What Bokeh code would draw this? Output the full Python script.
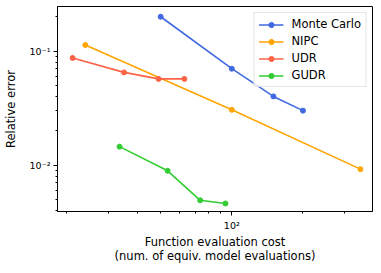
from bokeh.plotting import figure
from bokeh.models import Range1d, FixedTicker, CustomJSTickFormatter, Legend, LegendItem
from bokeh.embed import file_html
from bokeh.resources import INLINE

# Data
mc_x = [50, 100, 150, 200]
mc_y = [0.2, 0.07, 0.04, 0.03]
nipc_x = [24, 100, 350]
nipc_y = [0.113, 0.0305, 0.0092]
udr_x = [21.2, 35, 49, 63]
udr_y = [0.087, 0.065, 0.057, 0.057]
gudr_x = [33.5, 53.5, 73.5, 94]
gudr_y = [0.0145, 0.0089, 0.0049, 0.0046]

series_names = ["Monte Carlo", "NIPC", "UDR", "GUDR"]
series_colors = ["#4169E1", "#FFA500", "#FF6347", "#32CD32"]

x_major = [100]
x_minor = [20, 30, 40, 50, 60, 70, 80, 90, 200, 300]
y_major = [0.01, 0.1]
y_minor = [0.004, 0.005, 0.006, 0.007, 0.008, 0.009,
           0.02, 0.03, 0.04, 0.05, 0.06, 0.07, 0.08, 0.09, 0.2]

x_label = "Function evaluation cost\n(num. of equiv. model evaluations)"
y_label = "Relative error"

FONT = "DejaVu Sans"

p = figure(width=373, height=265, x_axis_type="log", y_axis_type="log",
           x_range=Range1d(18.3, 393.8), y_range=Range1d(0.00391, 0.246),
           output_backend="svg", toolbar_location=None,
           min_border_left=52, min_border_right=1, min_border_top=6,
           min_border_bottom=40)

p.background_fill_color = "white"
p.border_fill_color = "white"
p.outline_line_color = "black"
p.outline_line_width = 1
p.xgrid.visible = False
p.ygrid.visible = False

fmt = CustomJSTickFormatter(code="""
const e = Math.round(Math.log10(tick));
const sup = {'-':'\u207b','0':'\u2070','1':'\u00b9','2':'\u00b2','3':'\u00b3','4':'\u2074'};
return '10' + String(e).split('').map(c => sup[c]).join('');
""")

for ax, major, minor in ((p.xaxis[0], x_major, x_minor), (p.yaxis[0], y_major, y_minor)):
    ax.ticker = FixedTicker(ticks=major, minor_ticks=minor)
    ax.formatter = fmt
    ax.axis_line_color = "black"
    ax.major_tick_line_color = "black"
    ax.minor_tick_line_color = "black"
    ax.major_tick_in = 0
    ax.major_tick_out = 4
    ax.minor_tick_in = 0
    ax.minor_tick_out = 2
    ax.major_label_text_font = FONT
    ax.major_label_text_font_size = "9.5px"
    ax.major_label_text_color = "black"
    ax.axis_label_text_font = FONT
    ax.axis_label_text_font_size = "11.5px"
    ax.axis_label_text_font_style = "normal"
    ax.axis_label_text_color = "black"

p.xaxis.axis_label = x_label
p.yaxis.axis_label = y_label
p.xaxis.major_label_standoff = 4
p.xaxis.axis_label_standoff = 1
p.xaxis.axis_label_text_line_height = 1.0
p.yaxis.major_label_standoff = 3
p.yaxis.axis_label_standoff = 9

items = []
for xs, ys, name, col in ((mc_x, mc_y, series_names[0], series_colors[0]),
                          (nipc_x, nipc_y, series_names[1], series_colors[1]),
                          (udr_x, udr_y, series_names[2], series_colors[2]),
                          (gudr_x, gudr_y, series_names[3], series_colors[3])):
    l = p.line(xs, ys, line_color=col, line_width=1.6)
    s = p.scatter(xs, ys, marker="circle", size=5, fill_color=col, line_color=col)
    items.append(LegendItem(label=name, renderers=[l, s]))

legend = Legend(items=items, location="top_right")
legend.margin = 6
legend.padding = 4
legend.spacing = 3
legend.label_text_font = FONT
legend.label_text_font_size = "11.5px"
legend.label_text_color = "black"
legend.label_height = 13
legend.glyph_height = 13
legend.glyph_width = 25
legend.label_standoff = 8
legend.border_line_color = "#cccccc"
legend.border_line_width = 1
legend.background_fill_alpha = 0.8
p.add_layout(legend)

open("out.html", "w").write(file_html(p, INLINE))
